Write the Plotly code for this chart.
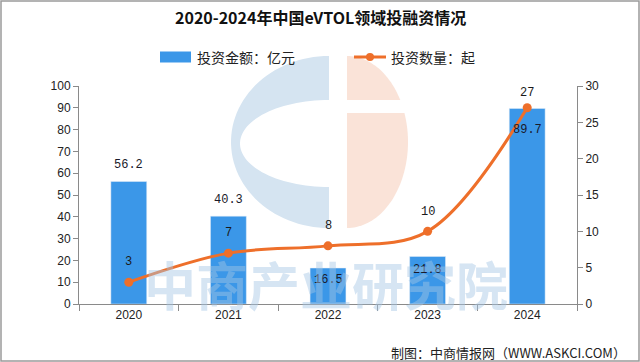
import numpy as np
import plotly.graph_objects as go

# ---- data ----
years = ["2020", "2021", "2022", "2023", "2024"]
invest_amount = [56.2, 40.3, 16.5, 21.8, 89.7]   # 亿元
invest_count = [3, 7, 8, 10, 27]                  # 起

title_text = "2020-2024年中国eVTOL领域投融资情况"
legend_bar = "投资金额：亿元"
legend_line = "投资数量：起"
footer_text = "制图：中商情报网（WWW.ASKCI.COM）"
watermark_text = "中商产业研究院"

# ---- style ----
BAR_C = "#3B97E8"
LINE_C = "#EE6F2A"
W, H = 640, 362
ML, MR, MT, MB = 79, 63, 86, 58
PW, PH = W - ML - MR, H - MT - MB
bar_label_shift = [16, 16, -12, -14, -22]
line_label_shift = [20, 20, 20, 19, 15]
CJK = "Noto Sans CJK SC"
NUM = "Liberation Sans, Arial"
LBL = "Liberation Mono, DejaVu Sans Mono"


def px(x):
    return (x - ML) / PW


def py(y):
    return (MT + PH - y) / PH


def path(points):
    s = "M " + " L ".join(f"{px(x):.5f},{py(y):.5f}" for x, y in points)
    return s + " Z"


fig = go.Figure()
fig.add_trace(go.Bar(
    x=years, y=invest_amount, name=legend_bar, marker_color=BAR_C,
    width=0.36, showlegend=False, hoverinfo="x+y"))
fig.add_trace(go.Scatter(
    x=years, y=invest_count, name=legend_line, yaxis="y2",
    mode="lines+markers", line=dict(color=LINE_C, width=3, shape="spline", smoothing=1.0),
    marker=dict(color=LINE_C, size=9), showlegend=False))

ann = []
for i, (v, s) in enumerate(zip(invest_amount, bar_label_shift)):
    ann.append(dict(x=i, y=v, xref="x", yref="y", text=f"{v:.1f}", showarrow=False,
                    yshift=s, yanchor="middle",
                    font=dict(family=LBL, size=12, color="#1a1a2a")))
for i, (v, s) in enumerate(zip(invest_count, line_label_shift)):
    ann.append(dict(x=i, y=v, xref="x", yref="y2", text=str(v), showarrow=False,
                    yshift=s, yanchor="middle",
                    font=dict(family=LBL, size=12, color="#1a1a1a")))


def paper_text(x, y, text, size, xanchor="center", color="#222"):
    return dict(x=px(x), y=py(y), xref="paper", yref="paper", text=text,
                xanchor=xanchor, yanchor="middle", showarrow=False,
                font=dict(family=CJK, size=size, color=color))


ann.append(paper_text(320, 17, f"<b>{title_text}</b>", 16, color="#111"))
ann.append(paper_text(195, 57, legend_bar, 14, xanchor="left"))
ann.append(paper_text(389, 57, legend_line, 14, xanchor="left"))
ann.append(paper_text(628, 352, footer_text, 13, xanchor="right"))
ann.append(paper_text(326, 283, f"<b>{watermark_text}</b>", 52,
                      color="rgba(165,198,228,0.45)"))

shapes = []
# logo watermark (below traces)
cy, ry = 142, 86
t = np.linspace(np.pi / 2, 3 * np.pi / 2, 60)
outer = [(329 + 98 * np.cos(a), cy - ry * np.sin(a)) for a in t]
inner = [(329 + 89 * np.cos(a), 143.5 - 43.5 * np.sin(a)) for a in t[::-1]]
shapes.append(dict(type="path", xref="paper", yref="paper", layer="below",
                   path=path(outer + inner), fillcolor="#d5e4f1", line=dict(width=0)))
cx2, rx2 = 347, 61
ang_top = np.arcsin((cy - 100) / ry)
ta = np.linspace(np.pi / 2, ang_top, 30)
top_pts = [(cx2, cy - ry)] + [(cx2 + rx2 * np.cos(a), cy - ry * np.sin(a)) for a in ta] + [(cx2, 100)]
shapes.append(dict(type="path", xref="paper", yref="paper", layer="below",
                   path=path(top_pts), fillcolor="#fae3d8", line=dict(width=0)))
ang_b = np.arcsin((cy - 113) / ry)
tb = np.linspace(ang_b, -np.pi / 2, 50)
bot_pts = [(cx2, 113)] + [(cx2 + rx2 * np.cos(a), cy - ry * np.sin(a)) for a in tb]
shapes.append(dict(type="path", xref="paper", yref="paper", layer="below",
                   path=path(bot_pts), fillcolor="#fae3d8", line=dict(width=0)))

# legend symbols
shapes.append(dict(type="rect", xref="paper", yref="paper", x0=px(160), x1=px(191),
                   y0=py(62.5), y1=py(51.5), fillcolor=BAR_C, line=dict(width=0)))
shapes.append(dict(type="line", xref="paper", yref="paper", x0=px(354), x1=px(386),
                   y0=py(57), y1=py(57), line=dict(color=LINE_C, width=3)))
shapes.append(dict(type="circle", xref="paper", yref="paper", x0=px(366), x1=px(374),
                   y0=py(61), y1=py(53), fillcolor=LINE_C, line=dict(width=0)))
# outer border
shapes.append(dict(type="rect", xref="paper", yref="paper", x0=px(1), x1=px(639),
                   y0=py(361), y1=py(1), line=dict(color="#9a9a9a", width=1.5)))

axis_font = dict(family=NUM, size=12, color="#222")
fig.update_layout(
    width=W, height=H, margin=dict(l=ML, r=MR, t=MT, b=MB),
    paper_bgcolor="white", plot_bgcolor="rgba(0,0,0,0)",
    showlegend=False, annotations=ann, shapes=shapes, bargap=0.64,
    xaxis=dict(type="category", range=[-0.5, len(years) - 0.5], showline=True,
               linecolor="#8a8a8a", linewidth=1,
               ticks="outside", tickson="boundaries", ticklen=6, tickcolor="#8a8a8a",
               tickfont=axis_font, showgrid=False, zeroline=False),
    yaxis=dict(range=[0, 100], dtick=10, showline=True, linecolor="#8a8a8a", linewidth=1,
               ticks="outside", ticklen=5, tickcolor="#8a8a8a", tickfont=axis_font,
               showgrid=False, zeroline=False),
    yaxis2=dict(range=[0, 30], dtick=5, overlaying="y", side="right", showline=True,
                linecolor="#8a8a8a", linewidth=1, ticks="outside", ticklen=5,
                tickcolor="#8a8a8a", tickfont=axis_font, showgrid=False, zeroline=False),
)

fig.write_html("out.html", config={"displayModeBar": False},
               post_script="document.body.style.margin='0';")
